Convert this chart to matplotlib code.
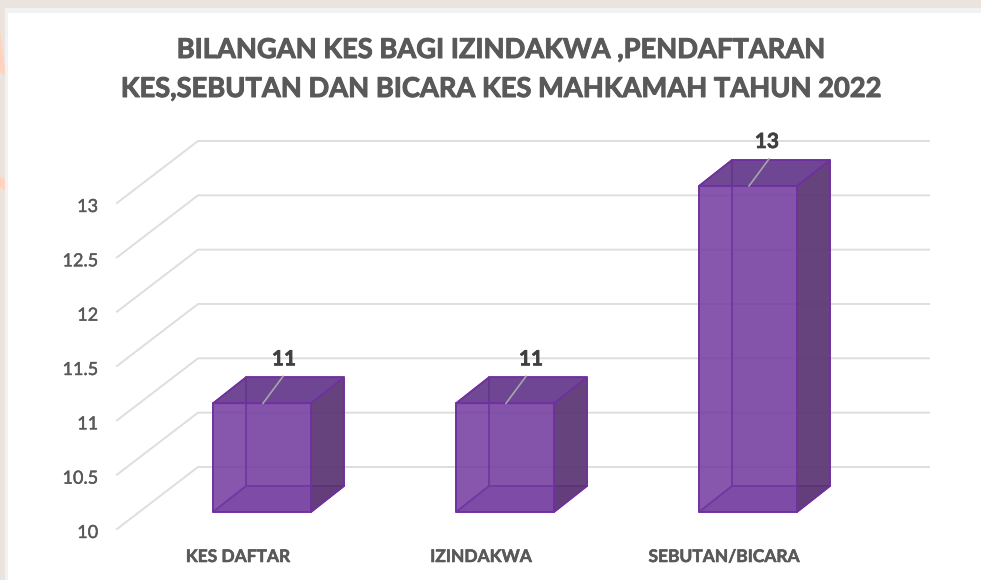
import matplotlib
matplotlib.use("Agg")
import matplotlib.pyplot as plt
import matplotlib.patheffects as pe
from matplotlib.colors import to_rgba
from matplotlib.patches import Polygon, Rectangle

categories = ["KES DAFTAR", "IZINDAKWA", "SEBUTAN/BICARA"]
values = [11, 11, 13]
grid_values = [10, 10.5, 11, 11.5, 12, 12.5, 13]
tick_labels = ["10", "10.5", "11", "11.5", "12", "12.5", "13"]
title_lines = ["BILANGAN KES BAGI IZINDAKWA ,PENDAFTARAN",
               "KES,SEBUTAN DAN BICARA KES MAHKAMAH TAHUN 2022"]

W, H = 981, 580
X_UNIT = 243.0      # pixels per category
Y_UNIT = 108.67     # pixels per value unit
X0, Y0 = 262.0, 512.0  # pixel of first category at value 10

BAR_W = 98 / X_UNIT
DEPTH_X = 33 / X_UNIT
DEPTH_Y = 26 / Y_UNIT
LABEL_SHIFT = [22, 26, 19]  # value labels sit a little off the leader ends

FILL_FRONT = "#733CA0"
FILL_TOP = "#64398A"
FILL_SIDE = "#5A3570"
FILL_BACK = "#733CA0"
EDGE = "#7030A0"
GRID = "#DEDEDE"
TEXT = "#595959"

plt.rcParams["font.family"] = ["Lato", "DejaVu Sans"]

fig = plt.figure(figsize=(W / 100, H / 100), dpi=100, facecolor="#EBE3DE")

# page decoration behind the chart
fig.add_artist(Polygon([(0, 1 - 30 / H), (5 / W, 1 - 70 / H), (5 / W, 1 - 75 / H), (0, 1 - 72 / H)],
                       transform=fig.transFigure, fc="#FFD3BE", ec="none", zorder=-3))
fig.add_artist(Polygon([(0, 1 - 176 / H), (5 / W, 1 - 180 / H), (5 / W, 1 - 190 / H), (0, 1 - 188 / H)],
                       transform=fig.transFigure, fc="#FFD3BE", ec="none", zorder=-3))
fig.add_artist(Rectangle((5 / W, 0), 1 - 5 / W, 1 - 8 / H, transform=fig.transFigure, fc="#F2F2F2", ec="none", zorder=-2))
fig.add_artist(Rectangle((8 / W, 0), 1 - 8 / W, 1 - 13 / H, transform=fig.transFigure, fc="white", ec="none", zorder=-1))

ax = fig.add_axes([0, 0, 1, 1])
ax.patch.set_alpha(0)
ax.set_xlim(-X0 / X_UNIT, (W - X0) / X_UNIT)
ax.set_ylim(10 - (H - Y0) / Y_UNIT, 10 + Y0 / Y_UNIT)
ax.axis("off")

# walls: gridlines run from the front-left corner to the back wall and across
wall_front_x = (117 - X0) / X_UNIT
wall_back_x = (198 - X0) / X_UNIT
grid_end_x = (929 - X0) / X_UNIT
wall_front_dy = -17 / Y_UNIT
wall_back_dy = 45 / Y_UNIT

for v, lab in zip(grid_values, tick_labels):
    ax.plot([wall_front_x, wall_back_x, grid_end_x],
            [v + wall_front_dy, v + wall_back_dy, v + wall_back_dy],
            color=GRID, lw=1.4, zorder=1, solid_joinstyle="miter")
    ax.text((98 - X0) / X_UNIT, v + wall_front_dy - 4 / Y_UNIT, lab, ha="right", va="center",
            fontsize=13, color=TEXT, zorder=5,
            path_effects=[pe.withStroke(linewidth=0.3, foreground=TEXT)])


def face(pts, color, alpha):
    ax.add_patch(Polygon(pts, closed=True, fc=to_rgba(color, alpha), ec=EDGE, lw=1.2, zorder=3, joinstyle="miter"))


for i, (cat, v) in enumerate(zip(categories, values)):
    l = i - BAR_W / 2
    r = i + BAR_W / 2
    b = 10
    dx, dy = DEPTH_X, DEPTH_Y
    # back, floor and left faces first so their edges show through
    face([(l + dx, b + dy), (r + dx, b + dy), (r + dx, v + dy), (l + dx, v + dy)], FILL_BACK, 0.55)
    face([(l, b), (r, b), (r + dx, b + dy), (l + dx, b + dy)], FILL_FRONT, 0.7)
    face([(l, b), (l + dx, b + dy), (l + dx, v + dy), (l, v)], FILL_FRONT, 0.5)
    face([(r, b), (r + dx, b + dy), (r + dx, v + dy), (r, v)], FILL_SIDE, 0.85)
    face([(l, v), (r, v), (r + dx, v + dy), (l + dx, v + dy)], FILL_TOP, 0.85)
    face([(l, b), (r, b), (r, v), (l, v)], FILL_FRONT, 0.72)

    # leader line and value label
    ax.plot([i + 1 / X_UNIT, i + 21 / X_UNIT], [v, v + 27 / Y_UNIT], color="#A6A6A6", lw=1.2, zorder=4)
    ax.text(i + LABEL_SHIFT[i] / X_UNIT, v + 44 / Y_UNIT, str(v), ha="center", va="center",
            fontsize=15, fontweight="bold", color="#404040", zorder=5,
            path_effects=[pe.withStroke(linewidth=0.5, foreground="#404040")])

    ax.text(i - 24 / X_UNIT, 10 - 45 / Y_UNIT, cat, ha="center", va="center",
            fontsize=12.5, fontweight="bold", color=TEXT, zorder=5,
            path_effects=[pe.withStroke(linewidth=0.4, foreground=TEXT)])

for line, py in zip(title_lines, [50, 89]):
    ax.text((501 - X0) / X_UNIT, 10 + (512 - py) / Y_UNIT, line, ha="center", va="center",
            fontsize=19.65, fontweight="bold", color=TEXT, zorder=5,
            path_effects=[pe.withStroke(linewidth=0.7, foreground=TEXT)])

fig.savefig("out.png", dpi=100, facecolor=fig.get_facecolor())
